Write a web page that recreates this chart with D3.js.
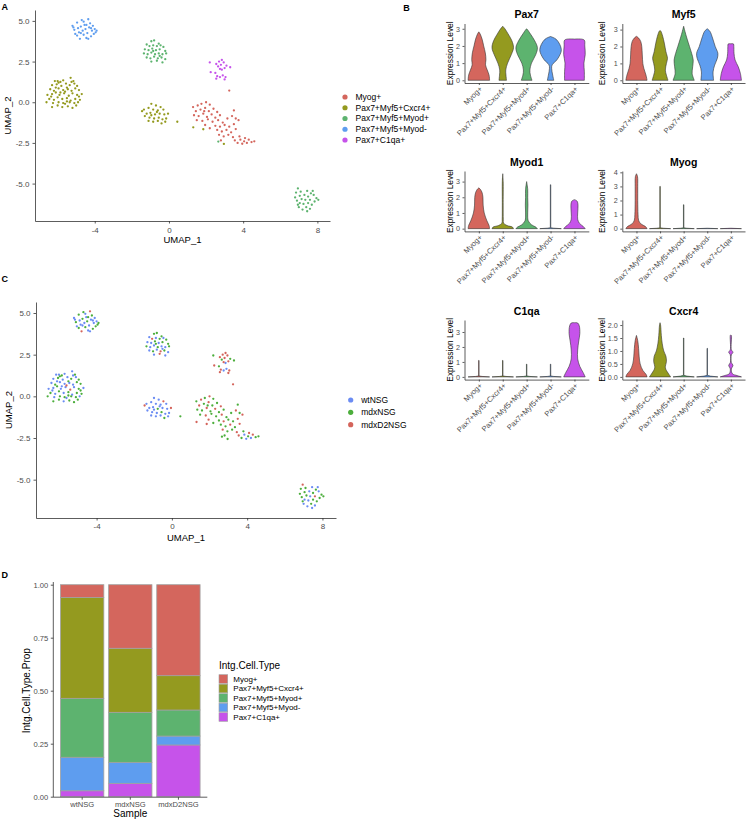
<!DOCTYPE html>
<html><head><meta charset="utf-8">
<script src="https://cdn.jsdelivr.net/npm/d3@7"></script>
<style>body{margin:0;background:#fff}svg{display:block}</style>
</head><body><svg id="c" width="748" height="820"></svg>
<script>
// ---------------- DATA ----------------
const clusterNames = ["Myog+","Pax7+Myf5+Cxcr4+","Pax7+Myf5+Myod+","Pax7+Myf5+Myod-","Pax7+C1qa+"];
const clusterColors = ["#d4665d","#949a1f","#5db36f","#5e9def","#c653ea"];
const sampleNames = ["wtNSG","mdxNSG","mdxD2NSG"];
const sampleColors = ["#6b8cf3","#4cae3c","#d4645b"];

// UMAP cells: [UMAP_1, UMAP_2, sample]
const cellsMyodNeg = [[-5.2,4.7,0],[-5.1,4.45,1],[-5.05,4.2,0],[-4.95,4.9,1],[-4.9,4.55,0],[-4.85,4.3,0],[-4.8,3.9,2],[-4.75,4.65,1],[-4.7,5.05,1],[-4.65,4.4,0],[-4.6,4.15,1],[-4.55,4.75,0],[-4.5,4.5,1],[-4.45,3.95,0],[-4.4,4.25,0],[-4.35,5.1,2],[-4.3,4.6,0],[-4.25,4.85,1],[-4.2,4.05,1],[-4.15,4.4,0],[-4.1,4.7,0],[-4.05,4.2,1],[-4.0,4.5,0],[-3.95,4.3,1],[-4.95,4.1,1],[-5.15,4.6,0],[-4.6,4.95,0],[-4.35,3.9,0],[-4.75,4.25,0],[-4.45,4.75,1],[-4.2,4.55,0],[-3.9,4.4,1]];
const cellsCxcr4Left = [[-6.0,1.3,0],[-5.85,1.25,1],[-5.7,1.35,0],[-5.3,1.5,0],[-5.15,1.3,1],[-6.15,1.3,0],[-6.3,1.05,0],[-6.05,1.1,1],[-5.8,1.0,0],[-5.55,1.15,0],[-5.35,1.05,1],[-5.1,1.15,0],[-4.95,1.0,1],[-6.4,0.8,0],[-6.2,0.7,1],[-5.95,0.85,0],[-5.7,0.75,0],[-5.5,0.9,1],[-5.25,0.7,0],[-5.05,0.85,1],[-4.85,0.75,1],[-6.55,0.45,0],[-6.3,0.5,0],[-6.1,0.6,1],[-5.9,0.45,0],[-5.65,0.55,0],[-5.4,0.4,2],[-5.2,0.55,0],[-4.95,0.45,1],[-4.7,0.5,0],[-6.45,0.2,1],[-6.2,0.15,0],[-6.0,0.3,1],[-5.75,0.2,0],[-5.5,0.25,1],[-5.3,0.1,0],[-5.05,0.2,1],[-4.8,0.15,1],[-6.6,0.0,1],[-6.25,-0.05,0],[-5.95,0.0,1],[-5.6,-0.1,0],[-5.35,0.0,1],[-5.1,-0.05,1],[-4.9,0.0,0],[-6.3,-0.3,1],[-6.0,-0.2,1],[-5.75,-0.3,0],[-5.45,-0.25,1],[-5.2,-0.35,1],[-5.0,-0.2,1],[-5.6,0.65,2],[-5.85,0.6,0],[-5.45,0.8,0],[-6.1,0.9,0],[-5.25,1.25,0],[-5.95,1.2,1],[-5.5,0.05,1],[-6.35,0.35,0],[-4.85,0.35,1],[-5.7,-0.05,1]];
const cellsMyodPosTop = [[-0.95,3.75,1],[-0.8,3.8,1],[-0.55,3.6,1],[-0.45,3.5,0],[-1.2,3.55,0],[-1.05,3.45,2],[-0.85,3.5,0],[-0.65,3.45,1],[-0.3,3.4,1],[-1.3,3.25,0],[-1.1,3.2,0],[-0.9,3.3,1],[-0.7,3.2,0],[-0.5,3.25,1],[-0.2,3.15,1],[-1.35,3.0,1],[-1.15,2.95,0],[-0.95,3.05,0],[-0.75,2.95,1],[-0.55,3.0,0],[-0.35,2.95,0],[-0.15,3.0,1],[-1.2,2.75,0],[-1.0,2.7,1],[-0.8,2.8,0],[-0.6,2.7,2],[-0.4,2.75,1],[-0.2,2.65,0],[-0.95,2.5,0],[-0.65,2.55,2],[-0.35,2.45,0],[-0.5,2.85,0],[-0.85,3.15,1]];
const cellsC1qa = [[2.2,2.45,1],[2.55,2.35,2],[2.7,2.5,2],[2.85,2.6,2],[2.95,2.45,2],[2.65,2.2,1],[2.8,2.3,2],[3.1,2.25,1],[3.3,2.15,1],[3.0,2.1,2],[2.85,2.0,0],[2.5,1.8,1],[2.25,1.85,2],[2.6,1.6,2],[2.75,1.55,0],[2.55,1.45,2],[2.9,1.65,0],[3.05,1.55,2],[3.0,1.4,2],[2.75,2.05,2]];
const cellsCxcr4Mid = [[-0.95,-0.1,0],[-0.7,-0.2,0],[-0.45,-0.3,2],[-1.1,-0.35,0],[-1.35,-0.45,0],[-1.45,-0.55,2],[-0.85,-0.45,0],[-0.6,-0.5,0],[-0.3,-0.45,0],[-1.2,-0.7,0],[-1.0,-0.65,0],[-0.75,-0.75,1],[-0.5,-0.7,0],[-0.25,-0.75,0],[-0.05,-0.7,2],[-1.3,-0.85,0],[-1.05,-0.95,0],[-0.8,-1.0,0],[-0.55,-0.95,1],[-0.35,-1.05,0],[-0.15,-1.0,0],[-1.1,-1.15,0],[-0.85,-1.2,0],[-0.6,-1.15,0],[-0.4,-1.3,1],[-0.95,-0.8,0],[-0.65,-0.6,0],[-0.2,-1.2,0],[0.45,-1.2,1]];
// [UMAP_1, UMAP_2, cluster, sample]
const cellsMyogRegion = [[1.3,-0.3,0,1],[1.55,-0.2,0,2],[1.75,-0.1,0,1],[2.0,0.0,0,2],[2.2,-0.15,0,1],[1.45,-0.55,0,2],[1.7,-0.45,0,1],[1.95,-0.35,0,2],[2.15,-0.55,0,1],[2.4,-0.4,0,1],[2.6,-0.6,0,2],[1.35,-0.8,0,1],[1.6,-0.85,0,1],[1.85,-0.7,0,2],[2.05,-0.9,0,1],[2.3,-0.75,0,2],[2.5,-0.95,0,1],[2.75,-0.8,0,1],[1.5,-1.1,0,1],[1.8,-1.15,0,2],[2.1,-1.05,0,1],[2.35,-1.2,0,1],[2.65,-1.1,0,2],[2.9,-1.25,0,1],[3.15,-1.0,0,1],[3.4,-0.85,0,2],[3.5,-0.5,0,1],[3.6,-1.0,0,1],[3.75,-1.1,0,2],[2.5,-1.45,0,1],[2.75,-1.5,0,2],[3.0,-1.4,0,1],[3.25,-1.5,0,1],[3.5,-1.35,0,2],[2.6,-1.7,0,1],[2.85,-1.8,0,1],[3.1,-1.7,0,2],[3.35,-1.85,0,1],[3.6,-1.65,0,2],[2.7,-2.0,0,2],[2.95,-2.1,0,1],[3.2,-2.0,0,1],[3.45,-2.15,0,2],[2.8,-2.35,0,1],[3.55,-2.35,0,2],[3.7,-2.5,0,1],[3.85,-2.3,0,0],[3.95,-2.55,0,0],[4.05,-2.4,0,1],[4.2,-2.5,0,0],[4.3,-2.3,0,2],[4.45,-2.45,0,1],[4.6,-2.4,0,1],[3.8,-2.1,0,1],[4.1,-2.2,0,2],[1.95,-1.4,0,2],[1.9,-0.55,0,1],[2.2,-1.6,0,1],[1.31,-1.54,1,2],[1.85,-1.66,1,2],[2.96,-2.56,1,1],[2.66,-2.42,2,1],[3.25,0.72,0,2]];
const cellsMyodPosBR = [[6.95,-5.3,2],[6.85,-5.55,1],[7.1,-5.5,1],[7.45,-5.45,0],[7.65,-5.6,1],[7.3,-5.7,0],[7.05,-5.75,1],[6.8,-5.85,1],[7.5,-5.8,1],[7.8,-5.7,0],[7.95,-5.9,1],[7.15,-5.95,1],[7.35,-6.0,0],[7.6,-6.0,2],[6.9,-6.05,1],[7.85,-6.1,1],[7.05,-6.2,0],[7.25,-6.25,0],[7.5,-6.2,1],[7.7,-6.3,1],[7.0,-6.45,0],[7.4,-6.45,1],[7.6,-6.55,0],[7.2,-6.6,0],[7.45,-6.7,0],[6.95,-6.3,1],[7.75,-5.45,0],[8.05,-6.0,1]];
const umapTicksX = [-4,0,4,8];
const umapTicksY = [-5,-2.5,0,2.5,5];

// Violin profiles: per cluster, [expression, relative width]
const genes = ["Pax7","Myf5","Myod1","Myog","C1qa","Cxcr4"];
const vlnPax7 = [
  [[0,1.0],[0.3,0.95],[0.6,0.78],[0.9,0.62],[1.2,0.66],[1.6,0.6],[2.0,0.45],[2.4,0.3],[2.7,0.12],[2.82,0]],
  [[0,0.35],[0.3,0.3],[0.6,0.28],[1.0,0.45],[1.5,0.8],[1.9,1.0],[2.3,0.85],[2.7,0.5],[3.0,0.2],[3.15,0]],
  [[0,0.5],[0.3,0.35],[0.6,0.3],[1.0,0.45],[1.5,0.85],[1.9,1.0],[2.3,0.75],[2.7,0.35],[2.95,0.08],[3.0,0]],
  [[0,0.3],[0.3,0.2],[0.7,0.1],[0.9,0.15],[1.2,0.6],[1.6,0.95],[1.8,1.0],[2.1,0.85],[2.4,0.5],[2.55,0]],
  [[0,0.92],[0.5,0.92],[1.0,0.88],[1.5,1.0],[2.0,0.96],[2.35,0.9],[2.4,0]]
];
const vlnMyf5 = [
  [[0,1.0],[0.3,0.9],[0.7,0.7],[1.0,0.6],[1.5,0.55],[2.0,0.5],[2.3,0.4],[2.5,0.2],[2.6,0]],
  [[0,0.75],[0.3,0.6],[0.6,0.5],[1.0,0.6],[1.3,0.7],[1.7,0.55],[2.2,0.4],[2.6,0.25],[2.9,0.08],[2.95,0]],
  [[0,1.0],[0.4,0.8],[0.8,0.85],[1.2,0.9],[1.6,0.75],[2.0,0.55],[2.5,0.3],[2.9,0.12],[3.2,0]],
  [[0,0.6],[0.5,0.55],[0.9,0.7],[1.3,0.95],[1.6,1.0],[2.0,0.75],[2.5,0.5],[2.9,0.25],[3.05,0]],
  [[0,1.0],[0.4,0.9],[0.8,0.7],[1.2,0.4],[1.6,0.3],[2.0,0.28],[2.15,0.25],[2.16,0]]
];
const vlnMyod1 = [
  [[0,1.0],[0.2,0.95],[0.5,0.75],[1.0,0.5],[1.5,0.4],[2.0,0.38],[2.3,0.3],[2.5,0.15],[2.6,0]],
  [[0,1.0],[0.1,0.9],[0.2,0.4],[0.35,0.08],[0.6,0.05],[1.5,0.04],[3.0,0.04],[3.5,0]],
  [[0,1.0],[0.1,0.85],[0.25,0.45],[0.5,0.15],[1.0,0.1],[1.5,0.12],[2.0,0.1],[2.5,0.1],[3.0,0]],
  [[0,1.0],[0.03,0.3],[0.06,0.02],[2.8,0.02],[2.8,0]],
  [[0,1.0],[0.15,0.8],[0.35,0.45],[0.6,0.3],[1.0,0.3],[1.5,0.33],[1.75,0.25],[1.85,0]]
];
const vlnMyog = [
  [[0,1.0],[0.15,0.85],[0.35,0.4],[0.6,0.2],[1.0,0.15],[2.0,0.12],[3.0,0.12],[3.7,0.1],[3.9,0]],
  [[0,1.0],[0.03,0.3],[0.06,0.02],[3.0,0.02],[3.0,0]],
  [[0,1.0],[0.03,0.3],[0.06,0.02],[1.7,0.02],[1.7,0]],
  [[0,1.0],[0.02,0.3],[0.03,0]],
  [[0,1.0],[0.02,0.3],[0.03,0]]
];
const vlnC1qa = [
  [[0,1.0],[0.03,0.3],[0.06,0.02],[1.1,0.02],[1.1,0]],
  [[0,1.0],[0.03,0.3],[0.06,0.02],[1.1,0.02],[1.1,0]],
  [[0,1.0],[0.03,0.3],[0.06,0.02],[0.85,0.02],[0.85,0]],
  [[0,1.0],[0.03,0.3],[0.06,0.02],[0.85,0.02],[0.85,0]],
  [[0,1.0],[0.3,0.8],[0.7,0.5],[1.2,0.3],[1.8,0.3],[2.4,0.4],[2.9,0.5],[3.4,0.45],[3.6,0.3],[3.62,0]]
];
const vlnCxcr4 = [
  [[0,1.0],[0.1,0.9],[0.25,0.6],[0.5,0.35],[0.8,0.25],[1.1,0.2],[1.4,0.12],[1.6,0]],
  [[0,1.0],[0.15,0.75],[0.35,0.5],[0.6,0.6],[0.8,0.55],[1.0,0.35],[1.3,0.2],[1.6,0.12],[2.0,0.05],[2.09,0]],
  [[0,1.0],[0.03,0.3],[0.06,0.02],[1.5,0.02],[1.5,0]],
  [[0,1.0],[0.03,0.3],[0.06,0.02],[1.1,0.02],[1.1,0]],
  [[0,1.0],[0.05,0.6],[0.12,0.15],[0.3,0.05],[0.45,0.2],[0.55,0.05],[0.85,0.05],[0.95,0.2],[1.05,0.05],[1.6,0.05],[1.62,0]]
];
const vlnTicks = {Pax7:[0,1,2,3],Myf5:[0,1,2,3],Myod1:[0,1,2,3],Myog:[0,1,2,3,4],C1qa:[0,1,2,3],Cxcr4:[0,0.5,1,1.5,2]};

// Proportions (panel D)
const propMyog     = [0.060, 0.300, 0.429];
const propCxcr4    = [0.476, 0.302, 0.162];
const propMyodPos  = [0.278, 0.236, 0.123];
const propMyodNeg  = [0.158, 0.099, 0.042];
const propC1qa     = [0.028, 0.063, 0.244];
const propTicks = [0, 0.25, 0.5, 0.75, 1];

// ---------------- DRAW ----------------
const FONT = "'Liberation Sans', Arial, Helvetica, sans-serif";
const svg = d3.select("#c").style("font-family", FONT);
const AX = "#333", TXT = "#4d4d4d";

function styleAxis(g, fs){
  g.attr("font-family", FONT).attr("font-size", fs);
  g.selectAll("path.domain").attr("stroke", AX).attr("stroke-width", 0.8);
  g.selectAll(".tick line").attr("stroke", AX).attr("stroke-width", 0.8);
  g.selectAll(".tick text").attr("fill", TXT);
}
function label(x, y, t, fs, opts={}){
  const e = svg.append("text").attr("x", x).attr("y", y).text(t)
    .attr("font-size", fs).attr("fill", opts.fill || "#000");
  if (opts.bold) e.attr("font-weight", "bold");
  if (opts.anchor) e.attr("text-anchor", opts.anchor);
  if (opts.rot) e.attr("x", null).attr("y", null).attr("transform", `translate(${x},${y}) rotate(${opts.rot})`);
  return e;
}

// all cells combined
const cells = [];
cellsMyodNeg.forEach(d => cells.push([d[0], d[1], 3, d[2]]));
cellsCxcr4Left.forEach(d => cells.push([d[0], d[1], 1, d[2]]));
cellsMyodPosTop.forEach(d => cells.push([d[0], d[1], 2, d[2]]));
cellsC1qa.forEach(d => cells.push([d[0], d[1], 4, d[2]]));
cellsCxcr4Mid.forEach(d => cells.push([d[0], d[1], 1, d[2]]));
cellsMyogRegion.forEach(d => cells.push(d));
cellsMyodPosBR.forEach(d => cells.push([d[0], d[1], 2, d[2]]));

function umapPanel(cfg){
  const x = d3.scaleLinear().domain(cfg.xd).range([cfg.x0, cfg.x1]);
  const y = d3.scaleLinear().domain(cfg.yd).range([cfg.y1, cfg.y0]);
  const gx = svg.append("g").attr("transform", `translate(0,${cfg.y1})`)
    .call(d3.axisBottom(x).tickValues(umapTicksX).tickSize(2.5).tickSizeOuter(0).tickPadding(cfg.xpad).tickFormat(d => String(d)));
  styleAxis(gx, 8);
  const gy = svg.append("g").attr("transform", `translate(${cfg.x0},0)`)
    .call(d3.axisLeft(y).tickValues(umapTicksY).tickSize(2.5).tickSizeOuter(0).tickPadding(3).tickFormat(d => d.toFixed(1)));
  styleAxis(gy, 8);
  svg.append("g").selectAll("circle").data(cells).join("circle")
    .attr("cx", d => x(d[0])).attr("cy", d => y(d[1])).attr("r", 1.15)
    .attr("fill", d => cfg.color(d));
  label((cfg.x0 + cfg.x1) / 2, cfg.titleY, "UMAP_1", 9.5, {anchor: "middle"});
  label(cfg.ytitleX, (cfg.y0 + cfg.y1) / 2, "UMAP_2", 9.5, {anchor: "middle", rot: -90});
  const lg = svg.append("g");
  cfg.legend.forEach((t, i) => {
    const cy = cfg.legY + i * cfg.legStep;
    lg.append("circle").attr("cx", cfg.legX).attr("cy", cy).attr("r", 2.6).attr("fill", cfg.legColors[i]);
    lg.append("text").attr("x", cfg.legX + 10.5).attr("y", cy).attr("dy", "0.35em")
      .attr("font-size", 8.5).text(t);
  });
}

label(1.5, 9.5, "A", 9, {bold: true});
umapPanel({x0: 35, x1: 330, y0: 10, y1: 221, xd: [-7.22, 8.68], yd: [-7.3, 5.67], xpad: 4,
  color: d => clusterColors[d[2]], titleY: 243, ytitleX: 10.8,
  legend: clusterNames, legColors: clusterColors, legX: 345, legY: 97, legStep: 10.75});

label(1.5, 281.5, "C", 9, {bold: true});
umapPanel({x0: 36, x1: 336, y0: 302, y1: 518, xd: [-7.22, 8.72], yd: [-7.3, 5.66], xpad: 3,
  color: d => sampleColors[d[3]], titleY: 540.5, ytitleX: 11.8,
  legend: sampleNames, legColors: sampleColors, legX: 350.7, legY: 400, legStep: 12.35});

// ---------- Violin panels ----------
label(403.3, 10.7, "B", 9, {bold: true});
const vlnData = {Pax7: vlnPax7, Myf5: vlnMyf5, Myod1: vlnMyod1, Myog: vlnMyog, C1qa: vlnC1qa, Cxcr4: vlnCxcr4};
const rows = [{top: 23.5, bottom: 83}, {top: 171, bottom: 231.4}, {top: 320, bottom: 379.6}];
const cols = [{x0: 464.5, x1: 588.8, yt: 453.3}, {x0: 622.3, x1: 745, yt: 605}];

genes.forEach((gene, gi) => {
  const r = rows[Math.floor(gi / 2)], c = cols[gi % 2];
  const prof = vlnData[gene];
  const vmax = d3.max(prof, p => d3.max(p, q => q[0]));
  const y = d3.scaleLinear().domain([-0.05 * vmax, 1.05 * vmax]).range([r.bottom, r.top]);
  const x = d3.scalePoint().domain(clusterNames).range([c.x0, c.x1]).padding(0.6);
  const hw = x.step() * 0.45;
  const g = svg.append("g");
  prof.forEach((p, i) => {
    const cx = x(clusterNames[i]);
    const area = d3.area().y(d => y(d[0])).x0(d => cx - d[1] * hw).x1(d => cx + d[1] * hw)
      .curve(p.length > 5 ? d3.curveCatmullRom.alpha(0.5) : d3.curveLinear);
    g.append("path").attr("d", area(p)).attr("fill", clusterColors[i])
      .attr("stroke", "#333").attr("stroke-width", 0.6).attr("stroke-linejoin", "round");
  });
  const gy = svg.append("g").attr("transform", `translate(${c.x0},0)`)
    .call(d3.axisLeft(y).tickValues(vlnTicks[gene]).tickSize(2).tickSizeOuter(0).tickPadding(2.5)
      .tickFormat(d => gene === "Cxcr4" ? d.toFixed(1) : String(d)));
  styleAxis(gy, 7.2);
  const gx = svg.append("g").attr("transform", `translate(0,${r.bottom})`)
    .call(d3.axisBottom(x).tickSize(2).tickSizeOuter(0).tickFormat(""));
  styleAxis(gx, 7.5);
  clusterNames.forEach(n => {
    svg.append("text").attr("transform", `translate(${x(n)},${r.bottom + 2.5}) rotate(-45)`)
      .attr("text-anchor", "end").attr("dy", "0.75em").attr("font-size", 7.5).attr("fill", TXT).text(n);
  });
  label((c.x0 + c.x1) / 2, r.top - 5.2, gene, 10.5, {bold: true, anchor: "middle"});
  label(c.yt, (r.top + r.bottom) / 2, "Expression Level", 8.4, {anchor: "middle", rot: -90});
});

// ---------- Panel D ----------
label(1.5, 578, "D", 9, {bold: true});
const props = [propMyog, propCxcr4, propMyodPos, propMyodNeg, propC1qa];
const table = sampleNames.map((s, j) => {
  const o = {sample: s};
  clusterNames.forEach((n, i) => o[n] = props[i][j]);
  return o;
});
const stackOrder = clusterNames.slice().reverse(); // C1qa at bottom
const series = d3.stack().keys(stackOrder)(table);
const xb = d3.scaleBand().domain(sampleNames).range([53.3, 207.3]).paddingInner(0.1).paddingOuter(0.15);
const yb = d3.scaleLinear().domain([0, 1]).range([796.7, 584.7]);
const gb = svg.append("g");
series.forEach(s => {
  const ci = clusterNames.indexOf(s.key);
  gb.selectAll(null).data(s).join("rect")
    .attr("x", d => xb(d.data.sample)).attr("width", xb.bandwidth())
    .attr("y", d => yb(d[1])).attr("height", d => yb(d[0]) - yb(d[1]))
    .attr("fill", clusterColors[ci]).attr("stroke", "#a0a0a0").attr("stroke-width", 0.8);
});
const gbx = svg.append("g").attr("transform", "translate(0,797.2)")
  .call(d3.axisBottom(xb).tickSize(2.5).tickSizeOuter(0).tickPadding(1.8));
gbx.select("path.domain").attr("d", "M53.3,0H207.3");
styleAxis(gbx, 7.6);
const gby = svg.append("g").attr("transform", "translate(53.3,0)")
  .call(d3.axisLeft(yb).tickValues(propTicks).tickSize(2.5).tickSizeOuter(0).tickPadding(2.5).tickFormat(d => d.toFixed(2)));
gby.select("path.domain").attr("d", "M0,797.2V582");
styleAxis(gby, 7.6);
label(130.3, 816.5, "Sample", 10, {anchor: "middle"});
label(30.1, 690.7, "Intg.Cell.Type.Prop", 10, {anchor: "middle", rot: -90});
label(219, 668.5, "Intg.Cell.Type", 10);
clusterNames.forEach((n, i) => {
  const cy = 679 + i * 9.5;
  svg.append("rect").attr("x", 219).attr("y", cy - 4.3).attr("width", 8.7).attr("height", 8.6)
    .attr("fill", clusterColors[i]).attr("stroke", "#a0a0a0").attr("stroke-width", 0.6);
  svg.append("text").attr("x", 233.3).attr("y", cy).attr("dy", "0.35em").attr("font-size", 8).text(n);
});
</script></body></html>
